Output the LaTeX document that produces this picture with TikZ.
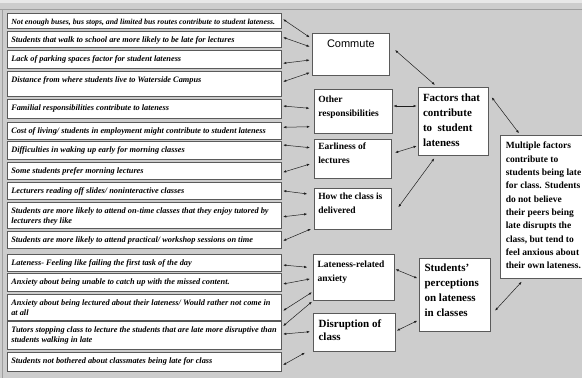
\documentclass[tikz,border=0pt]{standalone}
\usepackage{fontspec}
\setmainfont{Liberation Serif}
\newfontfamily\commutefont{Liberation Sans}
\usetikzlibrary{arrows.meta,calc}
\definecolor{bggray}{HTML}{CDCDCD}
\definecolor{boxline}{HTML}{5A5A5A}
\definecolor{arrowline}{HTML}{1E1E1E}
\newcommand{\causefont}{\fontsize{8.3}{10.5}\selectfont\bfseries\itshape}
\newcommand{\themefont}{\fontsize{9.5}{13.8}\selectfont\bfseries}
\newcommand{\headfont}{\fontsize{11}{15}\selectfont\bfseries}

\begin{document}
\begin{tikzpicture}[x=1pt,y=-1pt,
  tbox/.style n args={3}{draw=boxline, fill=white, line width=0.6pt, anchor=north west, inner ysep=2pt,
    execute at begin node={\begin{minipage}[t][#2][t]{#1}\raggedright\rule{0pt}{#3}},
    execute at end node={\end{minipage}}},
  cause/.style={tbox={266pt}{#1}{9pt}, inner xsep=4pt, font=\causefont},
  theme/.style n args={3}{tbox={#1}{#2}{#3}, inner xsep=4pt, font=\themefont},
  link/.style={{Latex[length=3.2pt,width=2.4pt]}-{Latex[length=3.2pt,width=2.4pt]}, draw=arrowline, line width=0.5pt}]
  \useasboundingbox (0,0) rectangle (582,378);
  \clip (0,0) rectangle (582,378);
  \fill[bggray] (0,0) rectangle (582,378);
  \fill[gray!18] (0,0) rectangle (582,3);
  \draw[gray!75, line width=0.6pt] (0,9.5) -- (582,9.5);
  \draw[gray!75, line width=0.6pt] (2.5,9.5) -- (2.5,378);

  \node[cause=11pt, font=\fontsize{7.8}{10}\selectfont\bfseries\itshape] (bus) at (7,12.7) {Not enough buses, bus stops, and limited bus routes contribute to student lateness.};
  \node[cause=12.4pt] (walk) at (7,30.7) {Students that walk to school are more likely to be late for lectures};
  \node[cause=14.4pt] (parking) at (7,50) {Lack of parking spaces factor for student lateness};
  \node[cause=21.4pt] (distance) at (7,70.7) {Distance from where students live to Waterside Campus};
  \node[cause=15.4pt] (family) at (7,99) {Familial responsibilities contribute to lateness};
  \node[cause=13.4pt] (living) at (7,121.7) {Cost of living/ students in employment might contribute to student lateness};
  \node[cause=14pt] (waking) at (7,140.7) {Difficulties in waking up early for morning classes};
  \node[cause=13.1pt] (prefer) at (7,162.3) {Some students prefer morning lectures};
  \node[cause=13.7pt] (slides) at (7,181.7) {Lecturers reading off slides/ noninteractive classes};
  \node[cause=21.9pt] (enjoy) at (7,202) {Students are more likely to attend on-time classes that they enjoy tutored by\\ lecturers they like};
  \node[cause=13.7pt] (practical) at (7,230.7) {Students are more likely to attend practical/ workshop sessions on time};
  \node[cause=13.1pt] (failing) at (7,254) {Lateness- Feeling like failing the first task of the day};
  \node[cause=13.8pt] (catchup) at (7,273.3) {Anxiety about being unable to catch up with the missed content.};
  \node[cause=22.4pt] (lectured) at (7,294) {Anxiety about being lectured about their lateness/ Would rather not come in\\ at all};
  \node[cause=23.9pt] (stopping) at (7,321) {Tutors stopping class to lecture the students that are late more disruptive than\\ students walking in late};
  \node[cause=14.8pt] (bothered) at (7,352.3) {Students not bothered about classmates being late for class};

  \node[tbox={67.7pt}{38.7pt}{12.2pt}, inner xsep=5pt, font=\commutefont\fontsize{11}{13}\selectfont] (commute) at (311.7,32.7) {\centering Commute\par};
  \node[theme={69.7pt}{39.4pt}{10.9pt}] (other) at (314,89.3) {Other\\ responsibilities};
  \node[theme={69.4pt}{34.4pt}{8.3pt}] (early) at (314,139.3) {Earliness of\\ lectures};
  \node[theme={69.4pt}{37.1pt}{8.6pt}] (delivery) at (314,188.3) {How the class is\\ delivered};
  \node[theme={73.1pt}{42.1pt}{10.6pt}] (anxiety) at (313.3,254.3) {Lateness-related\\ anxiety};
  \node[tbox={71.8pt}{33.4pt}{11.4pt}, inner xsep=5pt, font=\fontsize{11}{13.4}\selectfont\bfseries] (disrupt) at (313.3,313.3) {Disruption of\\ class};
  \node[tbox={60.7pt}{64.1pt}{11.4pt}, inner xsep=5pt, font=\headfont] (factors) at (417.7,87.3) {Factors that\\ contribute\\ to\ \ student\\ lateness};
  \node[tbox={60.8pt}{69.4pt}{11pt}, inner xsep=5pt, font=\headfont] (percep) at (419.3,257.7) {Students'\\ perceptions\\ on lateness\\ in classes};
  \node[tbox={79.4pt}{138.7pt}{11.6pt}, inner xsep=5.5pt, font=\fontsize{9.5}{13.3}\selectfont\bfseries] (summary) at (500,135) {Multiple factors\\ contribute to\\ students being late\\ for class. Students\\ do not believe\\ their peers being\\ late disrupts the\\ class, but tend to\\ feel anxious about\\ their own lateness.};

  \draw[link] ($(bus.east)+(1.5,-1.3)$) -- ($(commute.west)+(-2,-17)$);
  \draw[link] ($(walk.east)+(1.5,-1.9)$) -- ($(commute.west)+(-2,-7.7)$);
  \draw[link] ($(parking.east)+(1.5,3.8)$) -- ($(commute.west)+(-2,5.7)$);
  \draw[link] ($(distance.east)+(1.5,-2)$) -- ($(commute.west)+(-2,18.3)$);
  \draw[link] ($(family.east)+(1.5,-3)$) -- ($(other.west)+(-4.5,-3)$);
  \draw[link] ($(living.east)+(1.5,-3.4)$) -- ($(other.west)+(-4,15.4)$);
  \draw[link] ($(waking.east)+(1.5,-5)$) -- ($(early.west)+(-4,-11.1)$);
  \draw[link] ($(prefer.east)+(1.5,1.1)$) -- ($(early.west)+(-4,5.2)$);
  \draw[link] ($(slides.east)+(1.5,0)$) -- ($(delivery.west)+(-6.7,-15.2)$);
  \draw[link] ($(enjoy.east)+(1.5,1.5)$) -- ($(delivery.west)+(-6.7,4.8)$);
  \draw[link] ($(practical.east)+(1.5,0.9)$) -- ($(delivery.west)+(-3,19.8)$);
  \draw[link] ($(failing.east)+(1.5,2.2)$) -- ($(anxiety.west)+(-6,-10.4)$);
  \draw[link] ($(catchup.east)+(1.5,1.5)$) -- ($(anxiety.west)+(-3.3,1.3)$);
  \draw[link] ($(lectured.east)+(1.5,3.2)$) -- ($(anxiety.west)+(-1.3,14.6)$);
  \draw[link] ($(stopping.east)+(1.5,-9.2)$) -- ($(anxiety.west)+(-1.3,24)$);
  \draw[link] ($(stopping.east)+(1.5,-1.2)$) -- ($(disrupt.west)+(-3.3,-0.6)$);
  \draw[link] ($(bothered.east)+(1.5,3)$) -- ($(disrupt.west)+(-8.3,20.4)$);

  \draw[link] ($(commute.east)+(5,-4.35)$) -- ($(factors.north)+(-18.35,-2.3)$);
  \draw[link] ($(other.east)+(1,-5.3)$) -- ($(factors.west)+(-1,-15.65)$);
  \draw[link] ($(early.east)+(3,-6.1)$) -- ($(factors.west)+(-1,24.35)$);
  \draw[link] ($(delivery.east)+(6.3,-1.85)$) -- ($(factors.south)+(-19.05,2.3)$);
  \draw[link] ($(factors.north east)+(2.7,10)$) -- ($(summary.north west)+(19,-1.7)$);
  \draw[link] ($(anxiety.east)+(0.5,-8.35)$) -- ($(percep.west)+(-2,-16.4)$);
  \draw[link] ($(disrupt.east)+(1,-1.6)$) -- ($(percep.west)+(-2,26)$);
  \draw[link] ($(percep.east)+(4.3,16)$) -- ($(summary.south west)+(21.7,3.4)$);
\end{tikzpicture}
\end{document}
